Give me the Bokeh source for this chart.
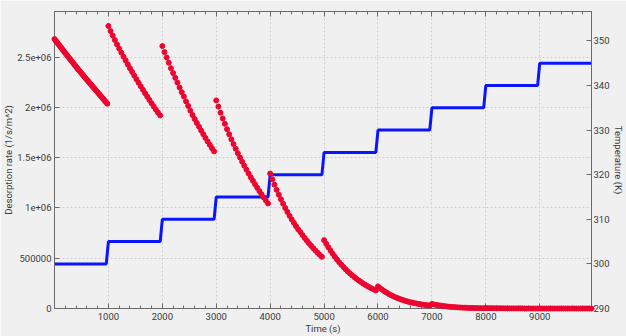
from bokeh.plotting import figure
from bokeh.models import LinearAxis, Range1d, FixedTicker, ColumnDataSource
from bokeh.embed import file_html
from bokeh.resources import INLINE

# ---------------- data ----------------
x_ticks = [1000, 2000, 3000, 4000, 5000, 6000, 7000, 8000, 9000]
x_tick_labels = ["1000", "2000", "3000", "4000", "5000", "6000", "7000", "8000", "9000"]
rate_ticks = [0, 500000, 1000000, 1500000, 2000000, 2500000]
rate_tick_labels = ["0", "500000", "1e+06", "1.5e+06", "2e+06", "2.5e+06"]
temp_ticks = [290, 300, 310, 320, 330, 340, 350]
temp_tick_labels = ["290", "300", "310", "320", "330", "340", "350"]

# temperature program (s, K)
temp_time = [0, 960, 1000, 1960, 2000, 2960, 3000, 3960, 4000, 4960, 5000,
             5960, 6000, 6960, 7000, 7960, 8000, 8960, 9000, 9960]
temp_K = [300, 300, 305, 305, 310, 310, 315, 315, 320, 320, 325,
          325, 330, 330, 335, 335, 340, 340, 345, 345]

# desorption rate, in units of 1e6 1/s/m^2, one list per temperature step
RATE_UNIT = 1e6
seg_start = [0, 1000, 2000, 3000, 4000, 5000, 6000, 7000, 8000, 9000]
seg_step = [20, 40, 40, 40, 40, 40, 40, 40, 40, 40]
rate_segments = [
    [2.680, 2.666, 2.652, 2.638, 2.624, 2.610, 2.596, 2.582, 2.568, 2.554,
     2.540, 2.527, 2.513, 2.500, 2.486, 2.473, 2.459, 2.446, 2.432, 2.419,
     2.405, 2.392, 2.379, 2.366, 2.353, 2.340, 2.327, 2.314, 2.301, 2.288,
     2.275, 2.263, 2.250, 2.238, 2.225, 2.213, 2.200, 2.188, 2.175, 2.163,
     2.150, 2.137, 2.125, 2.112, 2.100, 2.087, 2.075, 2.062, 2.050, 2.037],
    [2.810, 2.760, 2.715, 2.670, 2.627, 2.585, 2.545, 2.505, 2.467, 2.428,
     2.390, 2.353, 2.316, 2.280, 2.245, 2.210, 2.176, 2.142, 2.108, 2.075,
     2.042, 2.010, 1.978, 1.948, 1.920],
    [2.610, 2.550, 2.497, 2.445, 2.390, 2.342, 2.294, 2.247, 2.198, 2.152,
     2.108, 2.060, 2.015, 1.968, 1.925, 1.885, 1.846, 1.808, 1.770, 1.733,
     1.697, 1.662, 1.628, 1.595, 1.563],
    [2.070, 2.008, 1.948, 1.891, 1.837, 1.784, 1.733, 1.683, 1.636, 1.590,
     1.545, 1.502, 1.460, 1.420, 1.381, 1.343, 1.306, 1.270, 1.235, 1.201,
     1.168, 1.136, 1.105, 1.075, 1.045],
    [1.343, 1.285, 1.232, 1.180, 1.132, 1.086, 1.042, 1.000, 0.960, 0.922,
     0.886, 0.852, 0.819, 0.788, 0.760, 0.730, 0.702, 0.675, 0.649, 0.624,
     0.600, 0.577, 0.555, 0.534, 0.514],
    [0.680, 0.643, 0.609, 0.576, 0.545, 0.515, 0.487, 0.461, 0.436, 0.413,
     0.390, 0.369, 0.349, 0.330, 0.313, 0.296, 0.280, 0.265, 0.250, 0.237,
     0.224, 0.212, 0.200, 0.190, 0.180],
    [0.220, 0.202, 0.186, 0.171, 0.158, 0.145, 0.133, 0.123, 0.113, 0.104,
     0.096, 0.088, 0.081, 0.074, 0.068, 0.063, 0.058, 0.053, 0.049, 0.045,
     0.041, 0.038, 0.035, 0.032, 0.030],
    [0.045, 0.040, 0.036, 0.032, 0.029, 0.026, 0.023, 0.020, 0.018, 0.016,
     0.014, 0.013, 0.011, 0.010, 0.009, 0.008, 0.007, 0.006, 0.005, 0.005,
     0.004, 0.004, 0.003, 0.003, 0.003],
    [0.004, 0.003, 0.003, 0.003, 0.002, 0.002, 0.002, 0.002, 0.002, 0.001,
     0.001, 0.001, 0.001, 0.001, 0.001, 0.001, 0.001, 0.001, 0.000, 0.000,
     0.000, 0.000, 0.000, 0.000, 0.000],
    [0.000, 0.000, 0.000, 0.000, 0.000, 0.000, 0.000, 0.000, 0.000, 0.000,
     0.000, 0.000, 0.000, 0.000, 0.000, 0.000, 0.000, 0.000, 0.000, 0.000,
     0.000, 0.000, 0.000, 0.000, 0.000],
]

rate_time, rate_val = [], []
for start, step, seg in zip(seg_start, seg_step, rate_segments):
    for k, v in enumerate(seg):
        rate_time.append(start + k * step)
        rate_val.append(v * RATE_UNIT)

# ---------------- styling ----------------
FONT = "Roboto"
FS = "9.5px"
BG = "#f0f0f0"
AX = "#6a6a6a"
TXT = "#3a3a3a"

p = figure(width=626, height=336, output_backend="svg", toolbar_location=None,
           x_range=Range1d(0, 9960), y_range=Range1d(0, 2.954e6),
           background_fill_color=BG, border_fill_color=BG,
           min_border_left=0, min_border_right=0, min_border_top=11,
           min_border_bottom=0)
p.extra_y_ranges = {"temp": Range1d(290, 356.6)}
p.outline_line_color = "#555555"


def style(ax):
    ax.axis_line_color = AX
    ax.major_tick_line_color = AX
    ax.minor_tick_line_color = AX
    ax.major_tick_in = 5
    ax.major_tick_out = 0
    ax.minor_tick_in = 3
    ax.minor_tick_out = 0
    ax.major_label_text_font = FONT
    ax.major_label_text_font_size = FS
    ax.major_label_text_color = TXT
    ax.axis_label_text_font = FONT
    ax.axis_label_text_font_size = FS
    ax.axis_label_text_font_style = "normal"
    ax.axis_label_text_color = TXT
    ax.major_label_standoff = 3
    ax.axis_label_standoff = 0


x_minor = list(range(0, 10000, 200))

xa = p.xaxis[0]
style(xa)
xa.major_label_standoff = 4
xa.ticker = FixedTicker(ticks=x_ticks, minor_ticks=x_minor)
xa.major_label_overrides = dict(zip(x_ticks, x_tick_labels))
xa.axis_label = "Time (s)"

ya = p.yaxis[0]
style(ya)
ya.ticker = FixedTicker(ticks=rate_ticks)
ya.major_label_overrides = dict(zip(rate_ticks, rate_tick_labels))
ya.axis_label = "Desorption rate (1/s/m^2)"

ra = LinearAxis(y_range_name="temp", axis_label="Temperature (K)")
style(ra)
ra.major_label_standoff = 2
ra.ticker = FixedTicker(ticks=temp_ticks)
ra.major_label_overrides = dict(zip(temp_ticks, temp_tick_labels))
p.add_layout(ra, "right")

# top edge: tick marks only
ta = LinearAxis()
style(ta)
ta.ticker = FixedTicker(ticks=x_ticks, minor_ticks=x_minor)
ta.major_label_text_font_size = "1px"
ta.major_label_text_color = None
ta.major_label_standoff = 0
p.add_layout(ta, "above")

p.xgrid.ticker = FixedTicker(ticks=x_ticks)
p.ygrid.ticker = FixedTicker(ticks=rate_ticks)
for g in (p.xgrid, p.ygrid):
    g.grid_line_color = "#cfcfcf"
    g.grid_line_dash = "2 2"
    g.grid_line_width = 1

p.line(temp_time, temp_K, y_range_name="temp", line_color="#0a14ff",
       line_width=3)

src = ColumnDataSource(data=dict(t=rate_time, r=rate_val))
sc = p.scatter("t", "r", source=src, size=5, marker="circle",
               fill_color="#ec0530", line_color="#ec0530")
sc.level = "overlay"

open("out.html", "w").write(file_html(p, INLINE))
